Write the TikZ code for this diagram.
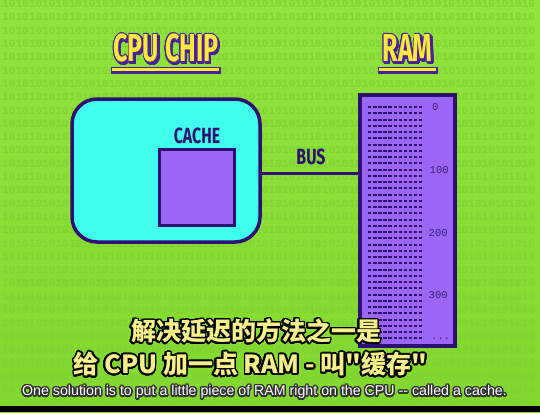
\documentclass[tikz,border=0pt]{standalone}
\usepackage{fontspec}
\usepackage{graphicx}
\usepackage{contour}
\setmainfont{Liberation Sans}
\newfontfamily\cjk{Noto Sans CJK SC}
\newfontfamily\titlef{Fira Sans}
\newfontfamily\monof{Liberation Mono}
\contournumber{24}
\definecolor{bgtop}{RGB}{146,228,60}
\definecolor{bgbot}{RGB}{130,216,46}
\definecolor{digit}{RGB}{128,212,50}
\definecolor{dkpurple}{RGB}{46,16,112}
\definecolor{cyanfill}{RGB}{64,255,236}
\definecolor{purplefill}{RGB}{155,102,245}
\definecolor{tyellow}{RGB}{255,232,60}
\definecolor{tpurple}{RGB}{72,34,150}
\definecolor{subyellow}{RGB}{246,240,140}
\definecolor{numcol}{RGB}{62,30,125}
\def\binrow{10101010101010101010101010101010101010101010101010101010101010101010101010101010}
\tikzset{
  bgrow/.style={anchor=west,inner sep=0pt,font=\monof\bfseries\fontsize{11.1}{11}\selectfont,text=digit},
  cpubox/.style={draw=dkpurple,line width=3.5pt,fill=cyanfill,rounded corners=25pt,inner sep=0pt},
  cachebox/.style={draw=dkpurple,line width=3pt,fill=purplefill,inner sep=0pt},
  rambox/.style={draw=dkpurple,line width=4pt,fill=purplefill,inner sep=0pt},
  titletext/.style={inner sep=0pt,font=\titlef\bfseries\fontsize{39}{39}\selectfont},
  labeltext/.style={inner sep=0pt,text=dkpurple,font=\titlef\bfseries\fontsize{22}{22}\selectfont},
  ramdash/.style={draw=dkpurple,line width=2pt,dash pattern=on 3.4pt off 1.7pt},
  numtext/.style={anchor=west,inner sep=0pt,text=numcol,font=\monof\fontsize{10.5}{10}\selectfont},
  bus/.style={draw=dkpurple,line width=3pt},
  subcn/.style={inner sep=0pt,text=subyellow,font=\cjk\bfseries\fontsize{25}{25}\selectfont},
  suben/.style={inner sep=0pt,text=white,font=\fontsize{14.2}{14}\selectfont},
}
\begin{document}
\begin{tikzpicture}[x=1pt,y=-1pt]
\useasboundingbox (0,0) rectangle (540,412);
\shade[top color=bgtop,bottom color=bgbot] (0,0) rectangle (540,412);
% binary background
\foreach \i in {0,...,30}{
  \node[bgrow] (bg\i) at (2,{4+13.3*\i}) {\binrow};
}
% titles
\node[titletext,text=tpurple] (cpushadow) at (167.5,50.5) {\scalebox{0.64}[1]{\contourlength{1.3pt}\contour{tpurple}{CPU CHIP}}};
\node[titletext,text=tyellow] (cputitle) at (166,49) {\scalebox{0.64}[1]{\contourlength{1.1pt}\contour{tpurple}{CPU CHIP}}};
\node[titletext,text=tpurple] (ramshadow) at (409,50.5) {\scalebox{0.64}[1]{\contourlength{1.3pt}\contour{tpurple}{RAM}}};
\node[titletext,text=tyellow] (ramtitle) at (407.5,49) {\scalebox{0.64}[1]{\contourlength{1.1pt}\contour{tpurple}{RAM}}};
% underlines
\fill[tpurple] (111,67) rectangle (221,74);
\fill[tyellow] (112,68) rectangle (219,71);
\fill[tpurple] (378,67) rectangle (438,74);
\fill[tyellow] (379,68) rectangle (436,71);
% CPU chip
\node[cpubox,minimum width=188pt,minimum height=143pt] (cpu) at (166,170.5) {};
\node[cachebox,minimum width=75pt,minimum height=76pt] (cache) at (197,187.5) {};
\node[labeltext] (cachelabel) at (197,136) {\scalebox{0.72}[1]{CACHE}};
% RAM
\node[rambox,minimum width=95pt,minimum height=251pt] (ram) at (407.5,220.5) {};
\foreach \k in {0,...,37}{
  \draw[ramdash] (368,{107+6.25*\k}) -- (424,{107+6.25*\k});
}
\node[numtext] (n0) at (432,107) {0};
\node[numtext] (n100) at (429.5,170.5) {100};
\node[numtext] (n200) at (428.5,233) {200};
\node[numtext] (n300) at (428.5,295) {300};
\node[numtext] (ndots) at (431,339) {...};
% bus
\coordinate (busL) at (cpu.east |- 0,173);
\coordinate (busR) at (ram.west |- 0,173);
\draw[bus] (busL) -- (busR);
\node[labeltext] (buslabel) at (311,157) {\scalebox{0.72}[1]{BUS}};
% subtitles
\node[subcn] (sub1) at (256,332) {\contourlength{1.7pt}\contour{black}{解决延迟的方法之一是}};
\node[subcn] (sub2) at (250.5,365) {\contourlength{1.7pt}\contour{black}{给 CPU 加一点 RAM - 叫"缓存"}};
\node[suben] (sub3) at (264.5,393) {\contourlength{1.4pt}\contour{black!80}{One solution is to put a little piece of RAM right on the CPU -{}- called a cache.}};
% bottom band
\fill[black] (0,406) rectangle (540,412);
\end{tikzpicture}
\end{document}
